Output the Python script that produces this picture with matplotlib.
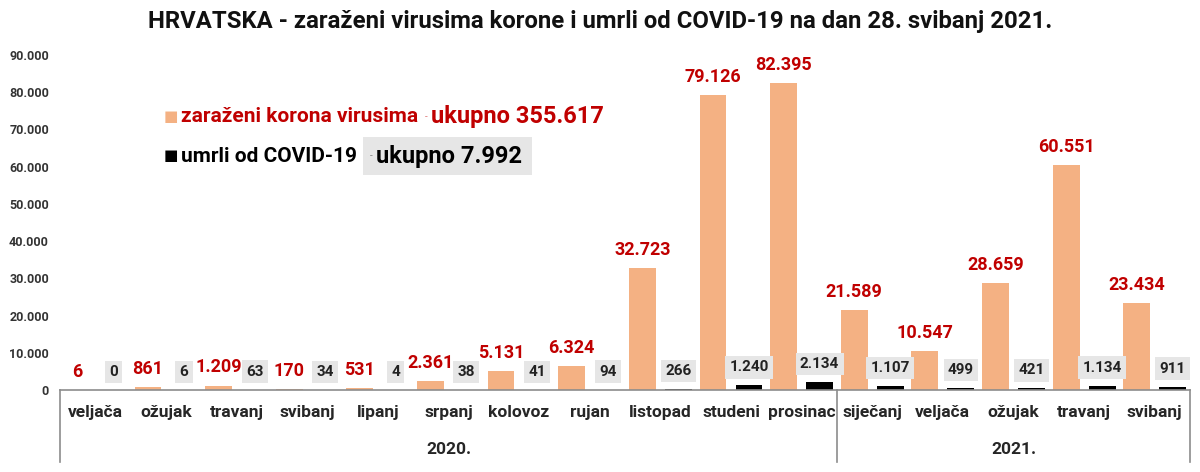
import numpy as np
import matplotlib.pyplot as plt
from matplotlib.ticker import FuncFormatter

plt.rcParams['font.family'] = ['Roboto', 'DejaVu Sans']

# podaci po mjesecima
mjeseci = ['veljača', 'ožujak', 'travanj', 'svibanj', 'lipanj', 'srpanj', 'kolovoz',
           'rujan', 'listopad', 'studeni', 'prosinac',
           'siječanj', 'veljača', 'ožujak', 'travanj', 'svibanj']
godine = ['2020.', '2021.']
broj_mjeseci = [11, 5]

zarazeni = [6, 861, 1209, 170, 531, 2361, 5131, 6324, 32723, 79126, 82395,
            21589, 10547, 28659, 60551, 23434]
umrli = [0, 6, 63, 34, 4, 38, 41, 94, 266, 1240, 2134,
         1107, 499, 421, 1134, 911]

naslov = 'HRVATSKA - zaraženi virusima korone i umrli od COVID-19 na dan 28. svibanj 2021.'


def fmt(v):
    return f"{int(v):,}".replace(',', '.')


orange = '#F4B183'
red = '#C00000'
gray_box = '#E6E6E6'

fig = plt.figure(figsize=(12, 4.72), dpi=100)
ax = fig.add_axes([0.05, 0.1737, 0.9417, 0.7098])

x = np.arange(len(mjeseci))
w = 0.38
off = 0.255
ax.bar(x - off, zarazeni, w, color=orange)
ax.bar(x + off, umrli, w, color='black')

for xi, v in zip(x, zarazeni):
    ax.annotate(fmt(v), (xi - off, v), xytext=(0, 13), textcoords='offset points',
                ha='center', va='center', fontsize=13, fontweight='bold', color=red)
for xi, v in zip(x, umrli):
    ax.annotate(fmt(v), (xi + off, v), xytext=(0, 13), textcoords='offset points',
                ha='center', va='center', fontsize=11, fontweight='bold', color='#222222',
                bbox=dict(boxstyle='square,pad=0.28', fc=gray_box, ec='none'))

ax.set_xlim(-0.5, len(mjeseci) - 0.5)
ax.set_ylim(0, 90000)
ax.set_yticks(np.arange(0, 90001, 10000))
ax.yaxis.set_major_formatter(FuncFormatter(lambda v, p: fmt(v)))
ax.tick_params(axis='y', length=0, labelsize=9, labelcolor='#333333', pad=8)
for lab in ax.get_yticklabels():
    lab.set_fontweight('bold')

ax.set_xticks(x)
ax.set_xticklabels(mjeseci, fontsize=12.5, fontweight='bold', color='#262626')
ax.tick_params(axis='x', length=0, pad=11)

for s in ['top', 'right', 'left']:
    ax.spines[s].set_visible(False)
ax.spines['bottom'].set_color('#8C8C8C')
ax.spines['bottom'].set_linewidth(1.2)

# godine ispod mjeseci i razdjelne crte
start = -0.5
for g, n in zip(godine, broj_mjeseci):
    ax.text(start + n / 2, -0.177, g, transform=ax.get_xaxis_transform(),
            ha='center', va='center', fontsize=12.5, fontweight='bold', color='#262626')
    ax.plot([start, start], [0, -0.215], transform=ax.get_xaxis_transform(),
            color='#8C8C8C', lw=1.2, clip_on=False)
    start += n
ax.plot([start, start], [0, -0.215], transform=ax.get_xaxis_transform(),
        color='#8C8C8C', lw=1.2, clip_on=False)

# legenda - dijelovi teksta jedan iza drugog
renderer = fig.canvas.get_renderer()


def chain(x_px, y_px, parts):
    ends = []
    for txt, kw, gap in parts:
        t = fig.text(x_px / 1200, 1 - y_px / 472, txt, va='center', **kw)
        ends.append(t.get_window_extent(renderer).x1)
        x_px = ends[-1] + gap
    return ends


chain(164, 117, [
    ('■', dict(fontsize=11, color=orange), 3),
    ('zaraženi korona virusima', dict(fontsize=15, fontweight='bold', color=red), 6),
    ('-', dict(fontsize=7, color='#E08080'), 4),
    ('ukupno ' + fmt(sum(zarazeni)), dict(fontsize=17, fontweight='bold', color=red), 0),
])

ends = chain(164, 156, [
    ('■', dict(fontsize=11, color='black'), 3),
    ('umrli od COVID-19', dict(fontsize=15, fontweight='bold', color='black'), 12),
    ('-', dict(fontsize=7, color='#888888'), 4),
    ('ukupno ' + fmt(sum(umrli)), dict(fontsize=17, fontweight='bold', color='black'), 0),
])
x0 = ends[1] + 6
fig.patches.append(plt.Rectangle((x0 / 1200, 1 - 175 / 472), (ends[3] + 10 - x0) / 1200,
                                 38 / 472, transform=fig.transFigure, fc=gray_box,
                                 ec='none', zorder=0))

fig.text(0.5, 0.955, naslov, ha='center', va='center', fontsize=17.2,
         fontweight='bold', color='#111111')

fig.savefig('out.png', dpi=100)
